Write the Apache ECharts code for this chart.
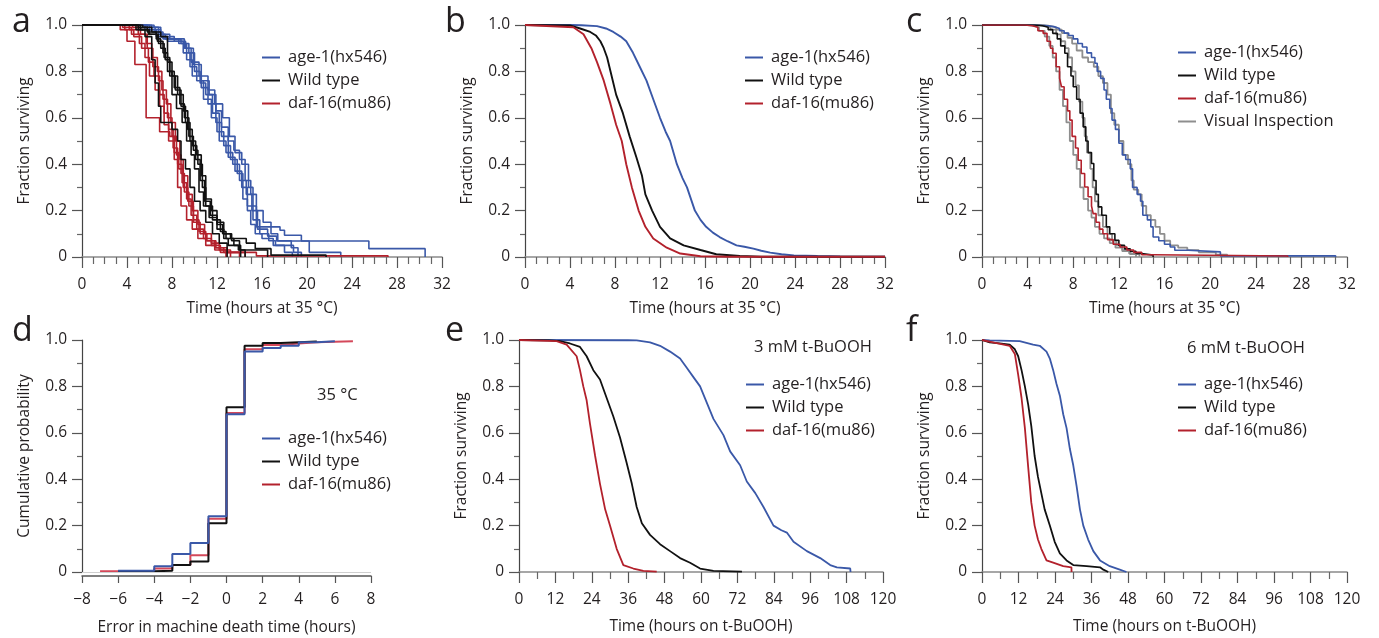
<!DOCTYPE html>
<html><head><meta charset="utf-8">
<script src="https://cdn.jsdelivr.net/npm/echarts@6/dist/echarts.min.js"></script>
<style>html,body{margin:0;padding:0;background:#fff}#c{width:1379px;height:638px}</style>
</head><body><div id="c"></div>
<script>
// ---------- DATA ----------
const NAME_AGE = 'age-1(hx546)', NAME_WT = 'Wild type', NAME_DAF = 'daf-16(mu86)', NAME_VIS = 'Visual Inspection';
// Panel a : replicate survival curves [hours, fraction]
const aAge1 = [[0,1],[5.6,0.98],[6.6,0.95],[7.6,0.93],[9.2,0.9],[9.7,0.84],[10.4,0.78],[11.2,0.72],[11.8,0.66],[12.5,0.6],[13.1,0.52],[13.6,0.45],[14.2,0.4],[14.8,0.3],[15.2,0.22],[15.5,0.13],[17.6,0.115],[18.0,0.094],[19.5,0.069],[25.5,0.036],[30.5,0]];
const aAge2 = [[0,1],[6.2,0.99],[6.8,0.96],[7.4,0.94],[8.8,0.92],[9.5,0.88],[10.0,0.8],[10.5,0.75],[11.0,0.7],[11.6,0.62],[12.2,0.5],[12.8,0.45],[13.4,0.4],[14.0,0.33],[14.6,0.27],[15.1,0.2],[15.6,0.12],[16.5,0.09],[17.3,0.069],[20.2,0.02],[23.0,0]];
const aAge3 = [[0,1],[5.8,0.99],[6.5,0.97],[7.2,0.94],[8.6,0.92],[9.3,0.85],[9.8,0.78],[10.6,0.73],[11.2,0.66],[11.9,0.58],[12.4,0.52],[13.0,0.43],[13.6,0.37],[14.2,0.3],[14.7,0.22],[15.2,0.16],[15.8,0.1],[16.6,0.07],[17.2,0.05],[18.8,0.02],[19.5,0]];
const aAge4 = [[0,1],[6.0,0.98],[7.0,0.95],[8.2,0.93],[9.0,0.88],[9.6,0.82],[10.2,0.76],[10.8,0.68],[11.5,0.6],[12.0,0.54],[12.6,0.48],[13.2,0.42],[13.8,0.36],[14.3,0.25],[14.7,0.2],[15.0,0.14],[15.4,0.1],[16.0,0.08],[17.0,0.05],[18.0,0.02],[18.7,0]];
const aAge5 = [[0,1],[6.4,0.99],[7.0,0.96],[7.8,0.94],[9.1,0.9],[9.9,0.83],[10.6,0.76],[11.3,0.7],[11.9,0.63],[12.4,0.56],[13.0,0.5],[13.5,0.46],[14.0,0.42],[14.5,0.33],[15.0,0.27],[15.5,0.2],[16.1,0.15],[16.8,0.1],[17.4,0.07],[18.6,0.04],[19.2,0]];
const aWt1 = [[0,1],[5.0,0.99],[5.8,0.97],[6.6,0.94],[7.0,0.9],[7.4,0.85],[7.8,0.78],[8.3,0.72],[8.8,0.65],[9.2,0.58],[9.6,0.5],[10.1,0.42],[10.5,0.33],[10.9,0.24],[11.4,0.18],[12.0,0.14],[12.5,0.1],[13.2,0.08],[14.6,0.06],[15.4,0.036],[16.8,0.008],[21.7,0]];
const aWt2 = [[0,1],[4.8,0.98],[5.6,0.95],[6.2,0.85],[6.5,0.75],[6.8,0.65],[7.0,0.58],[8.0,0.55],[8.5,0.5],[8.8,0.42],[9.2,0.38],[9.6,0.3],[10.0,0.24],[10.5,0.2],[11.0,0.15],[11.6,0.1],[12.2,0.06],[12.9,0]];
const aWt3 = [[0,1],[5.2,0.98],[6.0,0.96],[6.8,0.92],[7.3,0.86],[7.8,0.8],[8.2,0.73],[8.7,0.66],[9.1,0.6],[9.5,0.52],[9.9,0.46],[10.3,0.4],[10.7,0.3],[11.0,0.22],[11.6,0.16],[12.3,0.11],[12.8,0.08],[13.5,0.05],[14.1,0]];
const aWt4 = [[0,1],[5.4,0.99],[6.2,0.97],[7.0,0.95],[7.6,0.84],[8.0,0.78],[8.5,0.7],[9.0,0.63],[9.4,0.55],[9.8,0.48],[10.2,0.44],[10.6,0.35],[11.0,0.25],[11.5,0.2],[12.0,0.15],[12.6,0.1],[13.3,0.07],[14.0,0.03],[14.5,0]];
const aWt5 = [[0,1],[5.0,0.98],[5.9,0.96],[6.7,0.93],[7.2,0.88],[7.6,0.8],[8.0,0.7],[8.4,0.64],[8.9,0.58],[9.3,0.5],[9.7,0.44],[10.0,0.38],[10.4,0.28],[10.8,0.22],[11.3,0.17],[12.0,0.12],[12.6,0.08],[13.0,0.05],[13.9,0.03],[16.5,0]];
const aDaf1 = [[0,1],[3.4,0.98],[4.0,0.93],[4.7,0.83],[5.7,0.6],[6.9,0.54],[7.8,0.52],[8.2,0.42],[8.5,0.3],[8.8,0.22],[9.3,0.16],[9.8,0.12],[10.3,0.08],[11.0,0.05],[11.8,0.03],[12.8,0]];
const aDaf2 = [[0,1],[3.8,0.98],[4.6,0.95],[5.3,0.9],[5.9,0.84],[6.4,0.78],[6.9,0.7],[7.3,0.62],[7.7,0.55],[8.1,0.47],[8.5,0.4],[8.9,0.32],[9.3,0.25],[9.7,0.18],[10.2,0.12],[10.8,0.08],[11.5,0.05],[12.3,0.02],[15.5,0.005],[27.2,0]];
const aDaf3 = [[0,1],[4.2,0.98],[5.0,0.96],[5.7,0.92],[6.2,0.86],[6.7,0.8],[7.1,0.72],[7.5,0.66],[7.9,0.58],[8.3,0.5],[8.7,0.42],[9.0,0.35],[9.4,0.27],[9.8,0.2],[10.3,0.14],[10.9,0.1],[11.5,0.06],[12.2,0.03],[13.2,0]];
const aDaf4 = [[0,1],[4.5,0.99],[5.2,0.96],[5.8,0.9],[6.3,0.82],[6.8,0.76],[7.2,0.68],[7.6,0.6],[8.0,0.52],[8.4,0.44],[8.8,0.36],[9.1,0.28],[9.5,0.22],[9.9,0.15],[10.5,0.1],[11.1,0.07],[11.9,0.04],[12.9,0.02],[14.0,0]];
const aDaf5 = [[0,1],[3.6,0.99],[4.4,0.96],[5.1,0.92],[5.6,0.86],[6.0,0.78],[6.5,0.72],[6.9,0.65],[7.3,0.57],[7.7,0.5],[8.2,0.45],[8.6,0.38],[9.0,0.3],[9.4,0.24],[9.9,0.16],[10.4,0.11],[11.0,0.07],[11.8,0.04],[12.6,0.02],[14.5,0]];
// Panel b : pooled curves
const bAge = [[0,1],[4,1],[5,0.999],[6.4,0.995],[7.2,0.985],[7.85,0.97],[8.5,0.95],[9.0,0.93],[9.6,0.88],[10.2,0.82],[10.8,0.76],[11.4,0.68],[12.0,0.6],[12.5,0.54],[12.9,0.5],[13.5,0.4],[14.0,0.34],[14.4,0.3],[15.1,0.2],[15.6,0.16],[16.1,0.13],[16.7,0.105],[17.3,0.086],[18.0,0.068],[18.8,0.05],[19.5,0.044],[20.3,0.036],[21.0,0.027],[21.8,0.019],[22.8,0.012],[23.9,0.007],[26,0.004],[28,0.002],[30,0.001],[32,0.001]];
const bWt = [[0,1],[4,0.998],[4.9,0.985],[5.8,0.97],[6.3,0.955],[6.7,0.93],[7.0,0.9],[7.3,0.86],[7.7,0.78],[8.1,0.7],[8.7,0.62],[9.3,0.52],[9.9,0.43],[10.4,0.35],[10.7,0.27],[11.3,0.2],[12.0,0.13],[12.9,0.08],[14.1,0.05],[15.6,0.03],[17.0,0.012],[19.1,0.004],[21,0.001],[32,0.001]];
const bDaf = [[0,1],[4.3,0.99],[5.2,0.96],[5.9,0.9],[6.4,0.84],[7.0,0.76],[7.6,0.66],[8.1,0.57],[8.6,0.5],[9.0,0.4],[9.5,0.3],[10.1,0.2],[10.7,0.13],[11.4,0.08],[12.6,0.04],[13.8,0.015],[15.6,0.003],[18,0.001],[32,0.001]];
// Panel c : machine vs visual inspection
const cAge = [[0,1],[4.6,0.998],[5.6,0.993],[6.3,0.985],[6.8,0.975],[7.2,0.965],[7.6,0.955],[8.0,0.94],[8.4,0.92],[8.8,0.905],[9.2,0.88],[9.6,0.86],[9.9,0.835],[10.1,0.8],[10.4,0.77],[10.7,0.72],[10.9,0.68],[11.2,0.64],[11.4,0.59],[11.7,0.55],[12.0,0.49],[12.3,0.44],[12.6,0.42],[13.0,0.38],[13.2,0.3],[13.6,0.27],[13.9,0.24],[14.1,0.18],[14.5,0.16],[14.8,0.13],[15.0,0.086],[15.5,0.07],[16.0,0.055],[16.5,0.043],[16.9,0.029],[18.1,0.022],[20.9,0.005],[31.0,0]];
const cWt = [[0,1],[4.6,0.997],[5.3,0.99],[5.8,0.98],[6.2,0.964],[6.6,0.94],[6.9,0.91],[7.26,0.878],[7.5,0.82],[7.8,0.78],[8.0,0.734],[8.3,0.68],[8.6,0.62],[8.87,0.561],[9.1,0.5],[9.3,0.45],[9.6,0.403],[9.8,0.33],[10.0,0.27],[10.2,0.216],[10.5,0.18],[10.9,0.13],[11.2,0.1],[11.65,0.072],[12.0,0.05],[12.5,0.035],[13.0,0.025],[13.5,0.015],[14.0,0.008],[15.0,0]];
const cDaf = [[0,1],[3.8,0.997],[4.4,0.99],[4.9,0.975],[5.36,0.964],[5.7,0.93],[6.0,0.9],[6.2,0.878],[6.5,0.82],[6.8,0.77],[6.97,0.734],[7.2,0.68],[7.5,0.63],[7.7,0.59],[7.9,0.52],[8.2,0.47],[8.43,0.417],[8.7,0.36],[9.0,0.302],[9.3,0.26],[9.6,0.22],[9.75,0.187],[10.0,0.15],[10.3,0.12],[10.6,0.1],[11.0,0.075],[11.5,0.055],[12.1,0.043],[12.7,0.03],[13.3,0.02],[14.0,0.01],[15.0,0.004],[26.8,0]];
const cVisAge = [[0,1],[4.8,0.997],[5.8,0.99],[6.5,0.98],[7.0,0.965],[7.5,0.945],[7.9,0.92],[8.3,0.89],[8.8,0.86],[9.3,0.84],[9.8,0.82],[10.2,0.78],[10.6,0.75],[11.0,0.7],[11.3,0.62],[11.6,0.57],[12.0,0.5],[12.4,0.44],[12.8,0.4],[13.1,0.33],[13.3,0.29],[13.7,0.27],[14.0,0.22],[14.4,0.18],[14.8,0.16],[15.2,0.13],[15.6,0.1],[16.0,0.07],[16.5,0.05],[17.2,0.04],[18.0,0.03],[19.0,0.02],[20.5,0.01],[21.5,0]];
const cVisWt = [[0,1],[4.8,0.997],[5.5,0.99],[6.0,0.98],[6.5,0.96],[6.9,0.93],[7.3,0.9],[7.6,0.86],[7.9,0.8],[8.2,0.74],[8.5,0.67],[8.8,0.6],[9.0,0.52],[9.2,0.45],[9.5,0.38],[9.7,0.3],[9.9,0.24],[10.2,0.18],[10.6,0.13],[11.0,0.1],[11.4,0.07],[11.8,0.05],[12.3,0.03],[12.9,0.015],[13.5,0]];
const cVisDaf = [[0,1],[3.9,0.997],[4.5,0.99],[5.0,0.975],[5.5,0.95],[5.9,0.91],[6.2,0.86],[6.5,0.8],[6.8,0.72],[7.1,0.65],[7.4,0.58],[7.7,0.5],[8.0,0.44],[8.3,0.38],[8.6,0.3],[8.9,0.25],[9.3,0.2],[9.6,0.17],[9.9,0.13],[10.3,0.1],[10.7,0.08],[11.2,0.06],[11.7,0.04],[12.3,0.025],[13.0,0.012],[13.8,0]];
// Panel d : cumulative distribution of error [hours, probability]
const dAge = [[-6,0.005],[-4,0.025],[-3,0.078],[-2,0.125],[-1,0.24],[0,0.68],[1,0.95],[2,0.965],[3,0.975],[4,0.99],[5,0.995],[6,0.995]];
const dWt = [[-6,0.003],[-4,0.005],[-3,0.03],[-2,0.045],[-1,0.21],[0,0.71],[1,0.975],[2,0.987],[3,0.99],[4,0.993],[5,0.993]];
const dDaf = [[-7,0.003],[-6,0.005],[-4,0.015],[-3,0.03],[-2,0.072],[-1,0.23],[0,0.685],[1,0.96],[2,0.978],[3,0.985],[4,0.99],[5,0.995],[7,0.995]];
// Panel e : 3 mM t-BuOOH
const eAge = [[0,1],[36,0.999],[38.8,0.998],[43.2,0.99],[46.5,0.975],[49.8,0.95],[53.1,0.92],[55.3,0.88],[57.5,0.84],[59.7,0.8],[61.9,0.73],[64.1,0.66],[67.4,0.59],[69.6,0.52],[72.9,0.46],[75.1,0.39],[77.9,0.34],[80.6,0.28],[83.9,0.2],[86.5,0.18],[88.3,0.17],[90.5,0.13],[94.9,0.09],[99.3,0.06],[102.6,0.03],[104.8,0.02],[109.2,0.015],[109.3,0]];
const eWt = [[0,1],[10,0.998],[13.5,0.995],[16.8,0.985],[20.1,0.97],[22.3,0.93],[24.5,0.87],[26.7,0.83],[28.9,0.75],[31.1,0.67],[33.3,0.58],[35.5,0.47],[37.2,0.38],[38.8,0.28],[40.5,0.21],[43.2,0.16],[46.5,0.12],[49.8,0.09],[53.1,0.06],[56.4,0.04],[59.7,0.015],[64.1,0.005],[73.5,0.002],[73.6,0]];
const eDaf = [[0,1],[12.4,0.995],[15.7,0.98],[19,0.93],[20.1,0.87],[21.2,0.8],[22.3,0.74],[23.4,0.64],[25.1,0.5],[26.7,0.38],[28.4,0.27],[30,0.2],[32.2,0.1],[34.4,0.03],[37.7,0.015],[41,0.005],[45.4,0.002],[45.5,0]];
// Panel f : 6 mM t-BuOOH
const fAge = [[0,1],[2.5,0.998],[12.4,0.995],[16.8,0.98],[19,0.975],[21.2,0.95],[22.3,0.92],[23.4,0.87],[24.5,0.81],[25.6,0.76],[26.7,0.68],[27.8,0.62],[28.9,0.53],[30,0.46],[31.1,0.37],[32.2,0.27],[33.3,0.2],[34.9,0.14],[36.6,0.09],[38.8,0.05],[42,0.025],[45.3,0.01],[47.5,0]];
const fWt = [[0,1],[2.5,0.99],[5.8,0.985],[9.1,0.98],[10.8,0.96],[11.9,0.93],[13,0.87],[14.1,0.8],[15.2,0.72],[16.2,0.63],[17.3,0.5],[18.4,0.41],[19.5,0.34],[20.6,0.27],[22.3,0.2],[23.9,0.13],[25.6,0.08],[27.8,0.05],[30,0.03],[34.4,0.025],[38.8,0.02],[39.9,0.01],[41.5,0]];
const fDaf = [[0,1],[3.6,0.99],[9.1,0.975],[10.8,0.94],[11.9,0.85],[13,0.75],[14.1,0.62],[15.2,0.45],[16.2,0.3],[17.3,0.2],[18.4,0.14],[19.5,0.1],[21.2,0.05],[23.4,0.04],[26.7,0.025],[29.4,0.02],[29.45,0]];

// ---------- STYLE / LAYOUT ----------
const FONT = 'Open Sans';
const TXT = '#231f20';
const C_AGE = '#3a58a8', C_WT = '#111111', C_DAF = '#b3212c', C_DAF_D = '#d4485a', C_VIS = '#8e8e8e';
const gridsPos = [
  {left: 82, top: 25, width: 360, height: 232},
  {left: 525, top: 25, width: 360, height: 232},
  {left: 982, top: 25, width: 365, height: 232},
  {left: 82, top: 340, width: 289, height: 232},
  {left: 519, top: 340, width: 364, height: 232},
  {left: 982, top: 340, width: 365, height: 232}
];
const xCfg = [
  {min: 0, max: 32, interval: 4, minor: 4, gap: 44, name: 'Time (hours at 35 °C)'},
  {min: 0, max: 32, interval: 4, minor: 4, gap: 44, name: 'Time (hours at 35 °C)'},
  {min: 0, max: 32, interval: 4, minor: 4, gap: 44, name: 'Time (hours at 35 °C)'},
  {min: -8, max: 8, interval: 2, minor: 0, gap: 44, name: 'Error in machine death time (hours)'},
  {min: 0, max: 120, interval: 12, minor: 2, gap: 47, name: 'Time (hours on t-BuOOH)'},
  {min: 0, max: 120, interval: 12, minor: 2, gap: 47, name: 'Time (hours on t-BuOOH)'}
];
const yNames = ['Fraction surviving', 'Fraction surviving', 'Fraction surviving', 'Cumulative probability', 'Fraction surviving', 'Fraction surviving'];

const xAxes = xCfg.map((c, i) => ({
  gridIndex: i, type: 'value', min: c.min, max: c.max, interval: c.interval,
  offset: i === 3 ? 4 : 0,
  axisLine: {onZero: false, lineStyle: {color: i === 3 ? '#555' : '#8a8a8a', width: 1.5}},
  axisTick: {length: i === 3 ? 7 : 11, lineStyle: {color: '#555', width: 1.2}},
  minorTick: {show: c.minor > 0, splitNumber: c.minor || 5, length: 7, lineStyle: {color: '#666', width: 1.2}},
  splitLine: {show: false},
  axisLabel: {margin: i === 3 ? 16 : 20, fontSize: 15.5, color: TXT, fontFamily: FONT,
    formatter: v => v < 0 ? '\u2212' + Math.abs(v) : String(v)},
  name: c.name, nameLocation: 'middle', nameGap: c.gap,
  nameTextStyle: {fontSize: 15.5, color: TXT, fontFamily: FONT}
}));
const yAxes = yNames.map((n, i) => ({
  gridIndex: i, type: 'value', min: 0, max: 1, interval: 0.2,
  axisLine: {show: true, onZero: false, lineStyle: {color: '#444', width: 1.2}},
  axisTick: {show: true, length: 10, lineStyle: {color: '#555', width: 1.2}},
  minorTick: {show: true, splitNumber: 2, length: 5, lineStyle: {color: '#666', width: 1.2}},
  splitLine: {show: false},
  axisLabel: {margin: 15, fontSize: 15.5, color: TXT, fontFamily: FONT,
    formatter: v => v === 0 ? '0' : v.toFixed(1)},
  name: n, nameLocation: 'middle', nameGap: 49,
  nameTextStyle: {fontSize: 15.5, color: TXT, fontFamily: FONT}
}));

function ser(name, data, idx, color, width, step, z) {
  return {type: 'line', name, data, xAxisIndex: idx, yAxisIndex: idx, step: step ? 'end' : false,
    showSymbol: false, symbol: 'none', color, lineStyle: {color, width}, animation: false, silent: true, z: z || 2};
}
const series = [];
[aAge1, aAge2, aAge3, aAge4, aAge5].forEach(d => series.push(ser(NAME_AGE, d, 0, C_AGE, 1.6, true)));
[aDaf1, aDaf2, aDaf3, aDaf4, aDaf5].forEach(d => series.push(ser(NAME_DAF, d, 0, C_DAF, 1.6, true)));
[aWt1, aWt2, aWt3, aWt4, aWt5].forEach(d => series.push(ser(NAME_WT, d, 0, C_WT, 1.6, true)));
series.push(ser(NAME_AGE, bAge, 1, C_AGE, 1.9, false));
series.push(ser(NAME_WT, bWt, 1, C_WT, 1.9, false));
series.push(ser(NAME_DAF, bDaf, 1, C_DAF, 1.9, false));
[cVisAge, cVisWt, cVisDaf].forEach(d => series.push(ser(NAME_VIS, d, 2, C_VIS, 1.8, true, 1)));
series.push(ser(NAME_AGE, cAge, 2, C_AGE, 1.6, true));
series.push(ser(NAME_WT, cWt, 2, C_WT, 1.6, true));
series.push(ser(NAME_DAF, cDaf, 2, C_DAF, 1.6, true));
const dRed = ser(NAME_DAF, dDaf, 3, C_DAF_D, 2, true);
dRed.markLine = {silent: true, symbol: 'none', label: {show: false}, animation: false,
  lineStyle: {color: '#cfcfcf', width: 1, type: 'solid'}, data: [{yAxis: 0}]};
series.push(dRed);
series.push(ser(NAME_WT, dWt, 3, C_WT, 2, true));
series.push(ser(NAME_AGE, dAge, 3, C_AGE, 2, true));
series.push(ser(NAME_AGE, eAge, 4, C_AGE, 1.8, false));
series.push(ser(NAME_WT, eWt, 4, C_WT, 1.8, false));
series.push(ser(NAME_DAF, eDaf, 4, C_DAF, 1.8, false));
series.push(ser(NAME_AGE, fAge, 5, C_AGE, 1.8, false));
series.push(ser(NAME_WT, fWt, 5, C_WT, 1.8, false));
series.push(ser(NAME_DAF, fDaf, 5, C_DAF, 1.8, false));

const legPos = [
  {left: 262, top: 49, names: [NAME_AGE, NAME_WT, NAME_DAF]},
  {left: 745, top: 49, names: [NAME_AGE, NAME_WT, NAME_DAF]},
  {left: 1178, top: 44, names: [NAME_AGE, NAME_WT, NAME_DAF, NAME_VIS]},
  {left: 262, top: 430, names: [NAME_AGE, NAME_WT, NAME_DAF]},
  {left: 746, top: 376, names: [NAME_AGE, NAME_WT, NAME_DAF]},
  {left: 1178, top: 376, names: [NAME_AGE, NAME_WT, NAME_DAF]}
];
const legends = legPos.map(l => ({
  orient: 'vertical', left: l.left, top: l.top, padding: 0, itemGap: 6,
  itemWidth: 18, itemHeight: 2, icon: 'rect', selectedMode: false,
  data: l.names,
  textStyle: {fontSize: 16.5, lineHeight: 16, color: TXT, fontFamily: FONT, padding: [0, 0, 0, 3]}
}));

const letters = [['a', 12, 25], ['b', 445, 25], ['c', 906, 25], ['d', 12, 334], ['e', 445, 334], ['f', 906, 334]];
const notes = [['35 °C', 317, 398], ['3 mM t-BuOOH', 754, 350], ['6 mM t-BuOOH', 1187, 351]];
const graphic = letters.map(([t, x, y]) => ({type: 'text', left: x, top: y - 20, silent: true,
  style: {text: t, font: '34px "' + FONT + '"', fill: TXT}}))
  .concat(notes.map(([t, x, y]) => ({type: 'text', left: x, top: y - 11, silent: true,
  style: {text: t, font: '16.5px "' + FONT + '"', fill: TXT}})));

const chart = echarts.init(document.getElementById('c'), null, {renderer: 'canvas'});
chart.setOption({
  animation: false, backgroundColor: '#fff',
  grid: gridsPos, xAxis: xAxes, yAxis: yAxes, series, legend: legends, graphic
});
</script></body></html>
